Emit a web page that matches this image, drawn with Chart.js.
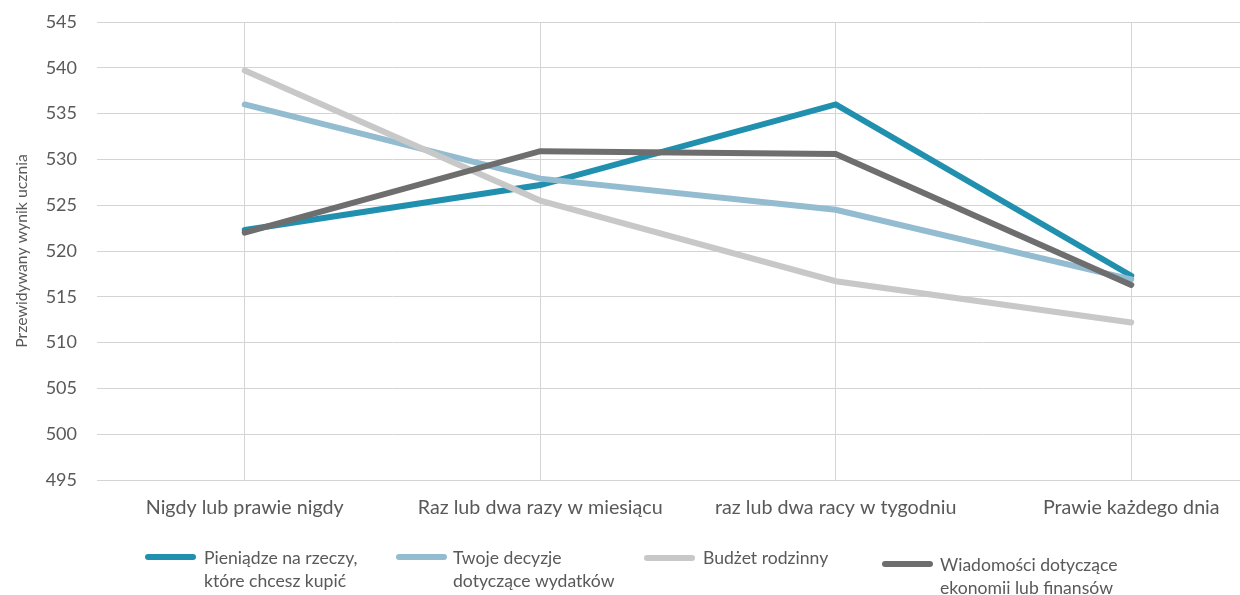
<!DOCTYPE html>
<html lang="pl">
<head>
<meta charset="utf-8">
<title>Przewidywany wynik ucznia</title>
<script src="https://cdn.jsdelivr.net/npm/chart.js@4"></script>
<style>
  html, body { margin: 0; padding: 0; background: #ffffff; overflow: hidden; }
  #wrap { position: relative; width: 1279px; height: 595px; }
</style>
</head>
<body>
<div id="wrap"><canvas id="chart"></canvas></div>
<script>
// Categories: how often the student talks with parents about money matters
const categories = [
  'Nigdy lub prawie nigdy',
  'Raz lub dwa razy w miesiącu',
  'raz lub dwa racy w tygodniu',
  'Prawie każdego dnia'
];

// Series names (legend text, split into its display lines)
const seriesNames = [
  ['Pieniądze na rzeczy,', 'które chcesz kupić'],
  ['Twoje decyzje', 'dotyczące wydatków'],
  ['Budżet rodzinny'],
  ['Wiadomości dotyczące', 'ekonomii lub finansów']
];

// Predicted student score for each topic
const moneyForThings   = [522.3, 527.2, 536.0, 517.3];
const spendingChoices  = [536.0, 527.9, 524.5, 516.9];
const familyBudget     = [539.7, 525.5, 516.7, 512.2];
const economicNews     = [522.0, 530.9, 530.6, 516.3];

// Y axis range and step
const yMin = 495;
const yMax = 545;
const yStep = 5;

const seriesValues = [moneyForThings, spendingChoices, familyBudget, economicNews];
const seriesColors = ['#2090ae', '#93bcd0', '#c8c8c8', '#6e6e6e'];

const FONT = 'Lato, "Open Sans", sans-serif';
const TEXT = '#595959';
const GRID = '#d4d4d4';

// Legend drawn under the plot, one entry per series
const legendLayout = [
  { x: 145, lineY: 557, textX: 204, textY: 558 },
  { x: 396, lineY: 557, textX: 453, textY: 558 },
  { x: 644, lineY: 558, textX: 703, textY: 558 },
  { x: 882, lineY: 564, textX: 940, textY: 565 }
];

const bottomLegend = {
  id: 'bottomLegend',
  afterDraw(chart) {
    const ctx = chart.ctx;
    ctx.save();
    chart.data.datasets.forEach((ds, i) => {
      const pos = legendLayout[i];
      ctx.strokeStyle = ds.borderColor;
      ctx.lineWidth = 6;
      ctx.lineCap = 'round';
      ctx.beginPath();
      ctx.moveTo(pos.x + 3, pos.lineY);
      ctx.lineTo(pos.x + 48, pos.lineY);
      ctx.stroke();
      ctx.fillStyle = TEXT;
      ctx.font = '17.6px ' + FONT;
      ctx.textBaseline = 'middle';
      ctx.textAlign = 'left';
      seriesNames[i].forEach((line, k) => {
        ctx.fillText(line, pos.textX, pos.textY + k * 23.5);
      });
    });
    ctx.restore();
  }
};

const datasets = seriesValues.map((vals, i) => ({
  label: seriesNames[i].join(' '),
  data: vals,
  borderColor: seriesColors[i],
  backgroundColor: seriesColors[i],
  borderWidth: 6,
  borderCapStyle: 'round',
  borderJoinStyle: 'miter',
  pointRadius: 0,
  pointHoverRadius: 0,
  tension: 0,
  fill: false,
  // later series are painted over earlier ones
  order: seriesValues.length - 1 - i
}));

new Chart(document.getElementById('chart'), {
  type: 'line',
  data: { labels: categories, datasets },
  plugins: [bottomLegend],
  options: {
    responsive: true,
    maintainAspectRatio: false,
    animation: false,
    layout: { padding: { top: 22, right: 0, bottom: 0, left: 0 } },
    plugins: {
      legend: { display: false },
      tooltip: { enabled: false }
    },
    scales: {
      x: {
        offset: true,
        grid: { color: GRID, lineWidth: 1, drawTicks: false, offset: false },
        border: { display: true, color: GRID, width: 1 },
        ticks: {
          color: TEXT,
          font: { family: FONT, size: 19.7 },
          padding: 16,
          maxRotation: 0,
          autoSkip: false
        },
        afterFit(scale) { scale.height = 115; }
      },
      y: {
        min: yMin,
        max: yMax,
        grid: { color: GRID, lineWidth: 1, drawTicks: false },
        border: { display: false },
        ticks: {
          stepSize: yStep,
          color: TEXT,
          font: { family: FONT, size: 18 },
          padding: 20
        },
        title: {
          display: true,
          text: 'Przewidywany wynik ucznia',
          color: TEXT,
          font: { family: FONT, size: 15.8 },
          padding: { top: 12, bottom: 0 }
        },
        afterFit(scale) {
          scale.width = 97;
          // the label gap should not push the plot top down
          scale.paddingTop = 0;
          scale.paddingBottom = 0;
        }
      }
    }
  }
});
</script>
</body>
</html>
